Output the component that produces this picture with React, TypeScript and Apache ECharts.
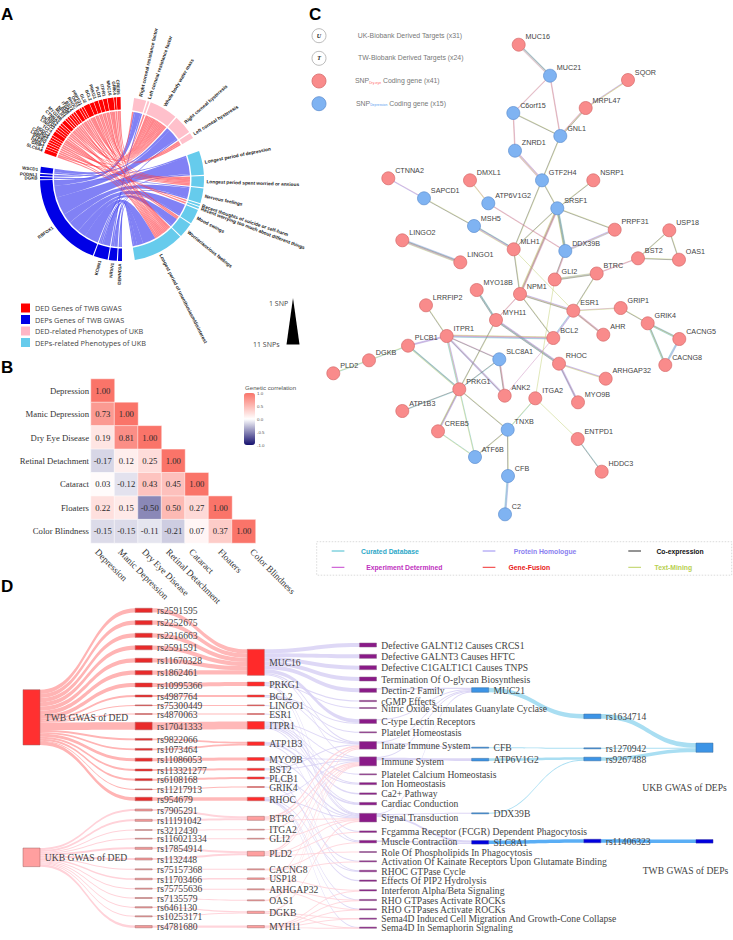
import React, { useEffect, useRef } from "react";
import * as echarts from "echarts";

/* ---------- Panel A: chord ---------- */
const dedGenes = ["SLC6A4","GRIP1","DMXL1","PTPRD","LRRFIP2","CACNG5","HDDC3","TCF4","LINGO2","ENTPD1","ANK2","CTNNA2","MYO18B","MLH1","NPM1","AHR","ITGA2","BST2","RHOC","OAS1","PRPF31","GLI2","BCL2","PRKG1","PLD2","ITPR1","MUC16","GRIK4","CREB5"];
const depGenes = ["DENND1A","NRXN1","KCNN1","RBFOX1","DGKB ","PODNL1","WSCD1"];
const dedPhenotypes = ["Right corneal resistance factor","Left corneal resistance factor","Whole body water mass","Right corneal hysteresis","Left corneal hysteresis"];
const depPhenotypes = ["Longest period of depression","Longest period spent worried or anxious","Nervous feelings","Recent thoughts of suicide or self-harm","Recent worrying too much about different things","Mood swings","Worrier/anxious feelings","Longest period of unenthusiasm/disinterest"];
const [RR, LR, WB, RH, LH] = dedPhenotypes;
const [LD, LW, NF, RT, RW, MS, MM, LM] = depPhenotypes;
const dedLinks: [string, string, number][] = [
  ["SLC6A4",LM,1],["SLC6A4",WB,1],["GRIP1",LM,1],["DMXL1",LW,1],["PTPRD",MM,1],["LRRFIP2",LM,1],["CACNG5",WB,1],["HDDC3",LW,1],["TCF4",RT,1],["TCF4",RW,1],
  ["LINGO2",LM,1],["ENTPD1",WB,1],["ANK2",LW,1],["CTNNA2",LM,1],["MYO18B",WB,1],["MYO18B",LM,1],["MLH1",WB,1],["NPM1",LW,1],["AHR",WB,1],["ITGA2",LM,1],["BST2",WB,1],
  ["RHOC",LM,1],["RHOC",LW,1],["OAS1",WB,1],["PRPF31",MM,1],["GLI2",WB,2],["GLI2",LH,1],["BCL2",LM,1],["BCL2",WB,1],["PRKG1",WB,1],["PRKG1",LM,1],["PLD2",LH,1],["PLD2",LW,1],
  ["ITPR1",WB,1],["ITPR1",RR,1],["MUC16",WB,2],["MUC16",LM,1],["GRIK4",LR,1],["CREB5",LH,1],["CREB5",LM,1],
];
const depLinks: [string, string, number][] = [
  ["WSCD1",RH,2],["WSCD1",LD,1],["PODNL1",RR,1],["DGKB ",NF,1],
  ["RBFOX1",RR,3.5],["RBFOX1",RH,7],["RBFOX1",LD,11],["RBFOX1",NF,6],["RBFOX1",MS,7],["RBFOX1",MM,5],["RBFOX1",LM,8.5],
  ["KCNN1",LD,1],["KCNN1",LM,4],["KCNN1",RH,1],["KCNN1",MS,1],["NRXN1",LM,2],["NRXN1",NF,1],["NRXN1",RR,1],["DENND1A",LM,1],["DENND1A",MM,1],
];
const chordLegend = ["DED Genes of TWB GWAS","DEPs Genes of TWB GWAS","DED-related Phenotypes of UKB","DEPs-related Phenotypes of UKB"];

/* ---------- Panel B: heatmap ---------- */
const traits = ["Depression","Manic Depression","Dry Eye Disease","Retinal Detachment","Cataract","Floaters","Color Blindness"];
const corrDepression = [1.0,0.73,0.19,-0.17,0.03,0.22,-0.15];
const corrManic = [1.0,0.81,0.12,-0.12,0.15,-0.15];
const corrDryEye = [1.0,0.25,0.43,-0.5,-0.11];
const corrRetinal = [1.0,0.45,0.5,-0.21];
const corrCataract = [1.0,0.27,0.07];
const corrFloaters = [1.0,0.37];
const corrColor = [1.0];
const corrColumns = [corrDepression,corrManic,corrDryEye,corrRetinal,corrCataract,corrFloaters,corrColor];
const corrTicks = ["1.0","0.5","0.0","-0.5","-1.0"];
const traitLabelStarts = [95,118,142,166,189,218,250];

/* ---------- Panel C: network ---------- */
const netNodes: [string, number, number][] = [
  ["MUC16",218.7,44.7],["MUC21",250,75.7],["SQOR",328,80],["MRPL47",285.7,108],["C6orf15",213.3,113],["GNL1",260.3,136],["ZNRD1",215,150.7],
  ["CTNNA2",88.3,178.3],["DMXL1",170,180.3],["GTF2H4",242,180.3],["NSRP1",293.3,180.3],["SAPCD1",124,198.3],["ATP6V1G2",188.3,203.3],["SRSF1",257.3,208.3],
  ["MSH5",174,226],["PRPF31",314.7,229.7],["USP18",369.3,230.3],["LINGO2",102.3,240.3],["MLH1",213.7,249.3],["DDX39B",265.3,251],["BST2",338,258.3],
  ["OAS1",379,259.7],["LINGO1",160.3,262.3],["BTRC",296.7,273.5],["GLI2",254.7,279.5],["MYO18B",176.7,290],["NPM1",220,294],["LRRFIP2",126,305.3],
  ["ESR1",273.3,310.7],["GRIP1",320.7,308],["MYH11",196,320],["GRIK4",347.7,323.3],["AHR",303.3,334.7],["ITPR1",146.7,336],["BCL2",253.3,338],
  ["CACNG5",379.3,339],["PLCB1",108,345.7],["SLC8A1",199.3,359.3],["DGKB",69,360.3],["RHOC",259,363.7],["CACNG8",365.3,365],["PLD2",33.3,373.3],
  ["ARHGAP32",305.7,378.7],["PRKG1",159.3,389.3],["ANK2",204.7,395.7],["ITGA2",235.3,398.3],["MYO9B",278,402.3],["ATP1B3",102.3,411],["TNXB",207.7,429.7],
  ["CREB5",138,431.3],["ENTPD1",277.7,439],["ATF6B",175,457],["HDDC3",301.7,471.7],["CFB",208,476],["C2",205,514.3],
];
const depressionNodes = ["MUC21","C6orf15","GNL1","ZNRD1","GTF2H4","SAPCD1","ATP6V1G2","SRSF1","MSH5","DDX39B","SLC8A1","TNXB","ATF6B","CFB","C2"];
const ukNodes = ["MUC21","ZNRD1","CFB","C2","TNXB","ATF6B","BTRC","ITGA2","GLI2","PLD2","CACNG8","CACNG5","USP18","ARHGAP32","OAS1","DGKB","MYH11","DMXL1","CTNNA2","LINGO2","MYO18B","NPM1","AHR","GRIP1","ANK2","HDDC3","ENTPD1","CREB5","LRRFIP2","SQOR","MRPL47"];
// evidence letters: d curated database, e experiment, h homologue, f fusion, k co-expression, t text-mining
const netEdges: [string, string, string][] = [
  ["MUC16","MUC21","dkhte"],["MUC21","C6orf15","ef"],["MUC21","GNL1","ef"],["C6orf15","GNL1","tk"],["C6orf15","ZNRD1","ef"],["ZNRD1","GTF2H4","ehfte"],
  ["GNL1","GTF2H4","tk"],["GNL1","MRPL47","eftk"],["MRPL47","SQOR","hft"],["GTF2H4","SRSF1","tk"],["GTF2H4","MLH1","tk"],["SRSF1","NSRP1","tk"],["SRSF1","MLH1","tk"],
  ["SRSF1","PRPF31","tk"],["SRSF1","DDX39B","dkdkt"],["SRSF1","NPM1","efkft"],["PRPF31","DDX39B","hteh"],["DDX39B","GLI2","efk"],["ATP6V1G2","DDX39B","ef"],
  ["DMXL1","ATP6V1G2","ft"],["CTNNA2","SAPCD1","eh"],["SAPCD1","MSH5","tk"],["MSH5","MLH1","dkhet"],["LINGO2","LINGO1","hdkfht"],["USP18","BST2","tk"],["USP18","OAS1","tk"],
  ["BST2","OAS1","tk"],["BST2","BTRC","ef"],["GLI2","BTRC","thtk"],["BTRC","ESR1","tk"],["MLH1","NPM1","tk"],["MLH1","ESR1","t"],["NPM1","ESR1","hetk"],["NPM1","MYH11","ef"],
  ["NPM1","BCL2","tk"],["ESR1","BCL2","hehd"],["ESR1","AHR","efkf"],["ESR1","GRIP1","et"],["GRIP1","GRIK4","tk"],["GRIK4","CACNG5","dktd"],["GRIK4","CACNG8","dktd"],
  ["CACNG5","CACNG8","hdhd"],["MYO18B","MYH11","dkdk"],["MYH11","RHOC","hekdk"],["MYH11","PRKG1","tk"],["LRRFIP2","ITPR1","tk"],["ITPR1","PLCB1","heh"],["ITPR1","BCL2","tfehd"],
  ["ITPR1","SLC8A1","ek"],["ITPR1","ANK2","hekh"],["ITPR1","PRKG1","hetd"],["PLCB1","DGKB","dt"],["DGKB","PLD2","dt"],["PLCB1","PRKG1","dkdt"],["SLC8A1","ANK2","efk"],
  ["SLC8A1","PRKG1","dk"],["ANK2","BCL2","e"],["RHOC","ARHGAP32","het"],["RHOC","MYO9B","hekh"],["GLI2","ITGA2","t"],["ITGA2","TNXB","dt"],["ITGA2","ENTPD1","t"],
  ["ENTPD1","HDDC3","dk"],["PRKG1","ATP1B3","dk"],["PRKG1","CREB5","hekt"],["PRKG1","TNXB","tk"],["PRKG1","ATF6B","dt"],["CREB5","ATF6B","dt"],["TNXB","ATF6B","tk"],
  ["TNXB","CFB","tk"],["CFB","C2","hdhd"],
];
const netLegendTop = ["UK-Biobank Derived Targets (x31)","TW-Biobank Derived Targets (x24)"];
const evidenceNames = ["Curated Database","Experiment Determined","Protein Homologue","Gene-Fusion","Co-expression","Text-Mining"];

/* ---------- Panel D: sankey ---------- */
const snpNames = ["rs2591595","rs2252675","rs2216663","rs2591591","rs11670328","rs1862461","rs10995366","rs4987764","rs75300449","rs4870063","rs17041333","rs9822066","rs1073464","rs11086053","rs113321277","rs6108168","rs11217913","rs954679",
  "rs7905291","rs11191042","rs3212430","rs116021334","rs17854914","rs1132448","rs75157368","rs11703466","rs75755636","rs7135579","rs6461130","rs10253171","rs4781680"];
const snpWeights = [4.2,4.2,4.2,4.2,4.2,4.2,4,2,0.8,0.8,7.6,1.8,1.8,3,2,2,0.8,3.5, 2,2,0.8,0.8,2,2,1,1.5,1,1,1.2,1,2.3];
const snpGenes = ["MUC16","MUC16","MUC16","MUC16","MUC16","MUC16","PRKG1","BCL2","LINGO1","ESR1","ITPR1","ATP1B3","ATP1B3","MYO9B","BST2","PLCB1","GRIK4","RHOC",
  "BTRC","BTRC","ITGA2","GLI2","PLD2","PLD2","CACNG8","USP18","ARHGAP32","OAS1","DGKB","DGKB","MYH11"];
const twbSnpCount = 18;
const twbGenes = ["MUC16","PRKG1","BCL2","LINGO1","ESR1","ITPR1","ATP1B3","MYO9B","BST2","PLCB1","GRIK4","RHOC"];
const ukbGenes = ["BTRC","ITGA2","GLI2","PLD2","CACNG8","USP18","ARHGAP32","OAS1","DGKB","MYH11"];
const pathways = ["Defective GALNT12 Causes CRCS1","Defective GALNT3 Causes HFTC","Defective C1GALT1C1 Causes TNPS","Termination Of O-glycan Biosynthesis","Dectin-2 Family","cGMP Effects","Nitric Oxide Stimulates Guanylate Cyclase","C-type Lectin Receptors","Platelet Homeostasis","Innate Immune System","Immune System","Platelet Calcium Homeostasis","Ion Homeostasis","Ca2+ Pathway","Cardiac Conduction","Signal Transduction","Fcgamma Receptor (FCGR) Dependent Phagocytosis","Muscle Contraction","Role Of Phospholipids In Phagocytosis","Activation Of Kainate Receptors Upon Glutamate Binding","RHOC GTPase Cycle","Effects Of PIP2 Hydrolysis","Interferon Alpha/Beta Signaling","RHO GTPases Activate ROCKs","RHO GTPases Activate ROCKs ","Sema4D Induced Cell Migration And Growth-Cone Collapse","Sema4D In Semaphorin Signaling"];
const [pG12,pG3,pC1,pTerm,pDectin,pCgmp,pNo,pCtype,pPH,pInnate,pImmune,pPCa,pIon,pCa,pCard,pSig,pFcg,pMus,pRole,pKain,pRhoc,pPip,pIfn,pRho1,pRho2,pSemaA,pSemaB] = pathways;
const genePathwayLinks: [string, string, number][] = [
  ["MUC16",pG12,4],["MUC16",pG3,4],["MUC16",pC1,4],["MUC16",pTerm,4],["MUC16",pDectin,4],["MUC16",pCtype,3.6],["MUC16",pInnate,1.2],["MUC16",pImmune,1.2],
  ["PRKG1",pCgmp,1.2],["PRKG1",pNo,1],["PRKG1",pSig,0.8],["PRKG1",pMus,1],
  ["BCL2",pCtype,0.6],["BCL2",pPH,1],["BCL2",pInnate,0.4],["LINGO1",pSig,0.8],["ESR1",pSig,0.8],
  ["ITPR1",pPCa,1],["ITPR1",pIon,1],["ITPR1",pCa,1.5],["ITPR1",pCard,0.8],["ITPR1",pInnate,1],["ITPR1",pImmune,1],["ITPR1",pFcg,0.8],
  ["ATP1B3",pIon,1],["ATP1B3",pCard,1.7],["ATP1B3",pMus,0.9],
  ["MYO9B",pRhoc,0.8],["MYO9B",pSig,1.2],["MYO9B",pImmune,1],["BST2",pInnate,1],["BST2",pImmune,1],
  ["PLCB1",pPip,1.3],["PLCB1",pSig,0.7],["GRIK4",pKain,0.8],
  ["RHOC",pRhoc,0.7],["RHOC",pRho1,0.4],["RHOC",pRho2,0.4],["RHOC",pImmune,1],["RHOC",pSig,0.5],["RHOC",pSemaB,0.4],
  ["BTRC",pInnate,1.8],["BTRC",pImmune,1.4],["BTRC",pSig,0.8],["ITGA2",pImmune,0.8],["GLI2",pSig,0.8],
  ["PLD2",pFcg,0.7],["PLD2",pRole,1],["PLD2",pInnate,1.6],["PLD2",pImmune,0.5],["PLD2",pSig,1],
  ["CACNG8",pMus,0.6],["CACNG8",pKain,0.3],["USP18",pIfn,1],["USP18",pImmune,0.5],["ARHGAP32",pRho1,0.4],["ARHGAP32",pRho2,0.3],["OAS1",pInnate,0.5],["OAS1",pImmune,0.5],
  ["DGKB",pSig,1.2],["DGKB",pSemaA,0.5],["DGKB",pSemaB,0.4],["MYH11",pRho1,0.4],["MYH11",pRho2,0.4],["MYH11",pSemaA,0.6],["MYH11",pSemaB,0.4],["MYH11",pIfn,0.3],
];
const depSideGenes = ["MUC21","CFB","ATP6V1G2","DDX39B","SLC8A1"];
const pathwayDepLinks: [string, string, number][] = [
  [pDectin,"MUC21",1.2],[pCtype,"MUC21",1],[pInnate,"MUC21",0.9],[pImmune,"MUC21",0.8],[pSig,"MUC21",0.7],
  [pInnate,"CFB",1],[pImmune,"ATP6V1G2",2.6],[pSig,"DDX39B",1],[pSig,"SLC8A1",1.9],[pMus,"SLC8A1",1.6],
];
const depSnps = ["rs1634714","rs1270942","rs9267488","rs11406323"];
const depSnpLinks: [string, string, number][] = [["MUC21","rs1634714",4.6],["CFB","rs1270942",1],["ATP6V1G2","rs9267488",2.6],["DDX39B","rs9267488",1],["SLC8A1","rs11406323",3.5]];
const depSources = ["UKB GWAS of DEPs","TWB GWAS of DEPs"];
const depSourceLinks: [string, string, number][] = [["rs1634714",depSources[0],4.6],["rs1270942",depSources[0],1],["rs9267488",depSources[0],3.6],["rs11406323",depSources[1],3.5]];

/* ---------- layout tables ---------- */
const snpCenters = [61,98,136,173,211,248,285,318,346,372,408,448,478,509,540,569,598,627,660,691,720,746,775,807,838,867,896,924,952,979,1010];
const geneCenters: Record<string, number> = {MUC16:217,PRKG1:282,BCL2:318,LINGO1:346,ESR1:372,ITPR1:406,ATP1B3:461,MYO9B:507,BST2:538,PLCB1:564,GRIK4:591,RHOC:627,BTRC:685,ITGA2:719,GLI2:746,PLD2:791,CACNG8:838,USP18:866,ARHGAP32:898,OAS1:931,DGKB:967,MYH11:1010};
const pathwayCenters = [60,94,128,162,196,228,249,289,322,361,409,448,476,506,536,578,620,650,681,709,738,767,796,825,853,881,908];
const depGeneCenters = [195,368,404,565,652];
const depSnpCenters = [274,370,402,648];
const depSourceCenters = [368,649];

const SERIF = "'Liberation Serif','Times New Roman',serif";
const SANS = "'Liberation Sans',Arial,sans-serif";

function buildChord() {
  const cx = 122, cy = 179, R1 = 82, R0 = 69.5, Rr = 68;
  const groups = [
    { names: dedGenes, color: "#ff0000", start: 288.4, end: 359, gap: 0.4 },
    { names: dedPhenotypes, color: "#ffc0cb", start: 8.5, end: 60, gap: 1 },
    { names: depPhenotypes, color: "#66cbec", start: 70, end: 171, gap: 0.8 },
    { names: depGenes, color: "#0000e6", start: 180, end: 278.6, gap: 0.8 },
  ];
  const links = [
    ...depLinks.map((l) => ({ a: l[0], b: l[1], v: l[2], fill: "rgba(70,70,240,0.68)" })),
    ...dedLinks.map((l) => ({ a: l[0], b: l[1], v: l[2], fill: "rgba(255,60,70,0.62)" })),
  ];
  const p = (r: number, d: number) => {
    const t = (d * Math.PI) / 180;
    return [cx + r * Math.sin(t), cy - r * Math.cos(t)];
  };
  const f = (q: number[]) => q[0].toFixed(2) + " " + q[1].toFixed(2);
  const nodes: Record<string, any> = {};
  groups.forEach((g) => {
    const sum = g.names.reduce((s, n) => s + links.filter((l) => l.a === n || l.b === n).reduce((x, l) => x + l.v, 0), 0);
    const unit = (g.end - g.start - g.gap * (g.names.length - 1)) / sum;
    let at = g.start;
    g.names.forEach((n) => {
      const v = links.filter((l) => l.a === n || l.b === n).reduce((x, l) => x + l.v, 0);
      nodes[n] = { name: n, a0: at, a1: at + v * unit, unit, color: g.color, mid: at + (v * unit) / 2 };
      at += v * unit + g.gap;
    });
  });
  const children: any[] = [];
  Object.values(nodes).forEach((nd: any) => {
    const own = links.filter((l) => l.a === nd.name || l.b === nd.name);
    const key = (l: any) => {
      const other = l.a === nd.name ? nodes[l.b] : nodes[l.a];
      return (other.mid - nd.mid + 360) % 360;
    };
    own.sort((x, y) => key(y) - key(x));
    let at = nd.a0;
    own.forEach((l: any) => {
      const e = at + l.v * nd.unit;
      if (l.a === nd.name) l.aSlot = [at, e];
      else l.bSlot = [at, e];
      at = e;
    });
  });
  links.forEach((l: any) => {
    const [a0, a1] = l.aSlot;
    const [b0, b1] = l.bSlot;
    const arc = (to: number) => `A ${Rr} ${Rr} 0 0 1 ${f(p(Rr, to))}`;
    const curve = (from: number, to: number) => `C ${f(p(Rr * 0.14, from))} ${f(p(Rr * 0.14, to))} ${f(p(Rr, to))}`;
    const d = `M ${f(p(Rr, a0))} ${arc(a1)} ${curve(a1, b0)} ${arc(b1)} ${curve(b1, a0)} Z`;
    children.push({ type: "path", shape: { pathData: d }, style: { fill: l.fill } });
  });
  Object.values(nodes).forEach((nd: any) => {
    const large = nd.a1 - nd.a0 > 180 ? 1 : 0;
    const d = `M ${f(p(R1, nd.a0))} A ${R1} ${R1} 0 ${large} 1 ${f(p(R1, nd.a1))} L ${f(p(R0, nd.a1))} A ${R0} ${R0} 0 ${large} 0 ${f(p(R0, nd.a0))} Z`;
    children.push({ type: "path", shape: { pathData: d }, style: { fill: nd.color } });
    const [x, y] = p(R1 + 2.5, nd.mid);
    const right = nd.mid < 180;
    const rot = ((90 - nd.mid) * Math.PI) / 180 + (right ? 0 : Math.PI);
    const isGene = dedGenes.includes(nd.name) || depGenes.includes(nd.name);
    children.push({
      type: "text", x, y, rotation: rot,
      style: { text: nd.name.trim(), align: right ? "left" : "right", verticalAlign: "middle", fontSize: isGene ? 4.4 : 4.8, fontWeight: "bold", fontFamily: SANS, fill: "#222" },
    });
  });
  return children;
}

function buildSankey() {
  const allGenes = [...twbGenes, ...ukbGenes];
  const links: any[] = [];
  const lavender = "#d8d1f4", pinkA = "#ffb4b4", pinkB = "#ffd2d9";
  snpNames.forEach((s, i) => {
    const isTwb = i < twbSnpCount;
    links.push({ source: isTwb ? "TWB GWAS of DED" : "UKB GWAS of DED", target: s, value: snpWeights[i], lineStyle: { color: isTwb ? pinkA : pinkB, opacity: 1 } });
    links.push({ source: s, target: snpGenes[i], value: snpWeights[i], lineStyle: { color: isTwb ? pinkA : pinkB, opacity: 0.95 } });
  });
  genePathwayLinks.forEach((l) => links.push({ source: l[0], target: l[1], value: l[2], lineStyle: { color: twbGenes.includes(l[0]) ? lavender : pinkB, opacity: 0.85 } }));
  pathwayDepLinks.forEach((l) => links.push({ source: l[0], target: l[1], value: l[2], lineStyle: { color: lavender, opacity: 0.9 } }));
  depSnpLinks.forEach((l) => links.push({ source: l[0], target: l[1], value: l[2], lineStyle: { color: l[0] === "SLC8A1" ? "#5aaef5" : "#a9def2", opacity: 1 } }));
  depSourceLinks.forEach((l) => links.push({ source: l[0], target: l[1], value: l[2], lineStyle: { color: l[1] === depSources[1] ? "#5aaef5" : "#a9def2", opacity: 1 } }));

  const valueOf = (n: string) => {
    const i = links.filter((l) => l.target === n).reduce((s, l) => s + l.value, 0);
    const o = links.filter((l) => l.source === n).reduce((s, l) => s + l.value, 0);
    return Math.max(i, o);
  };
  const columns: { names: string[]; centers: number[] }[] = [
    { names: ["TWB GWAS of DED", "UKB GWAS of DED"], centers: [590 + 382 / 3, 590 + 802 / 3] },
    { names: snpNames, centers: snpCenters.map((z) => 590 + z / 3) },
    { names: allGenes, centers: allGenes.map((g) => 590 + geneCenters[g] / 3) },
    { names: pathways, centers: pathwayCenters.map((z) => 625 + z / 3) },
    { names: depSideGenes, centers: depGeneCenters.map((z) => 625 + z / 3) },
    { names: depSnps, centers: depSnpCenters.map((z) => 625 + z / 3) },
    { names: depSources, centers: depSourceCenters.map((z) => 625 + z / 3) },
  ];
  const H = Math.max(...columns.map((c) => c.names.reduce((s, n) => s + valueOf(n), 0)));
  const top = 600, left = 23, width = 690, nodeW = 17;
  const step = (width - nodeW) / 6;
  const nodeFill = (n: string, col: number) => {
    if (col === 3) return { color: "#8a1a88", borderColor: "#8a5f88" };
    if (n === "TWB GWAS of DED") return { color: "#ff3030", borderColor: "#a06060" };
    if (n === "UKB GWAS of DED") return { color: "#ff9f9f", borderColor: "#a06060" };
    if (col === 1) return snpNames.indexOf(n) < twbSnpCount ? { color: "#e82a2a", borderColor: "#b06060" } : { color: "#f49a9a", borderColor: "#a06868" };
    if (col === 2) return twbGenes.includes(n) ? { color: "#ff2a2a", borderColor: "#b06060" } : { color: "#ff9f9f", borderColor: "#a06868" };
    if (n === "SLC8A1" || n === "rs11406323" || n === depSources[1]) return { color: "#0000e0", borderColor: "#3030a0" };
    return { color: "#3c94e6", borderColor: "#35689a" };
  };
  const data: any[] = [];
  columns.forEach((c, ci) => {
    c.names.forEach((n, i) => {
      const v = valueOf(n);
      const item: any = {
        name: n,
        localX: (ci * step) / width,
        localY: (c.centers[i] - v / 2 - top) / H,
        itemStyle: { ...nodeFill(n, ci), borderWidth: 0.5, opacity: 1 },
      };
      if (n === depSources[0]) item.label = { position: "bottom", offset: [-20, 25] };
      if (n === depSources[1]) item.label = { position: "bottom", offset: [-19, 18] };
      data.push(item);
    });
  });
  return { data, links, H, top, left, width, nodeW };
}

export default function App() {
  const ref = useRef<HTMLDivElement>(null);
  useEffect(() => {
    if (!ref.current) return;
    document.body.style.margin = "0";
    const chart = echarts.init(ref.current, undefined, { renderer: "svg" });

    const heatData: any[] = [];
    corrColumns.forEach((col, x) => col.forEach((v, k) => heatData.push([x, x + k, v])));

    const nodeIndex: Record<string, [number, number]> = {};
    netNodes.forEach((n) => (nodeIndex[n[0]] = [n[1], n[2]]));
    const evidenceColor: Record<string, string> = { d: "#58b4bc", e: "#c47ab4", h: "#8f88e0", f: "#cc7a70", k: "#5a5a5a", t: "#b8c85c" };

    const sk = buildSankey();
    const chordChildren = buildChord();

    const txt = (text: string, x: number, y: number, o: any = {}) => ({
      type: "text", x, y, silent: true,
      style: { text, fontSize: 7, fontFamily: SANS, fill: "#555", align: "left", verticalAlign: "middle", ...o },
    });
    const panel = (t: string, x: number, y: number) => txt(t, x, y, { fontSize: 17, fontWeight: "bold", fill: "#000", verticalAlign: "top" });

    const graphics: any[] = [
      panel("A", 1, 6), panel("B", 1, 359), panel("C", 309, 6), panel("D", 1, 578),
      ...traits.map((t, i) => ({ ...txt(t, traitLabelStarts[i] + 1.5, 550.5, { fontFamily: SERIF, fontSize: 9.2, fill: "#333" }), rotation: -Math.PI / 4 })),
      ...["#ff0000", "#0000e6", "#ffb6c6", "#66cbec"].map((c, i) => ({ type: "rect", shape: { x: 21, y: 303.5 + i * 11.5, width: 9, height: 9 }, style: { fill: c } })),
      ...chordLegend.map((t, i) => txt(t, 35, 308 + i * 11.5, { fontSize: 7.3, fontFamily: "'Open Sans',sans-serif", fill: "#444" })),
      { type: "polygon", shape: { points: [[293, 298], [299.5, 344.5], [286.5, 344.5]] }, style: { fill: "#000" } },
      txt("1 SNP", 269, 303, { fontSize: 7, fontFamily: "'Open Sans',sans-serif", fill: "#444" }),
      txt("11 SNPs", 253, 344.5, { fontSize: 7, fontFamily: "'Open Sans',sans-serif", fill: "#444" }),
      txt("Genetic correlation", 245, 387, { fontSize: 6.1, fill: "#555" }),
      ...corrTicks.map((t, i) => txt(t, 257, 393.5 + i * 13, { fontSize: 4.4, fill: "#555" })),
      ...[0, 1].map((i) => ({ type: "circle", shape: { cx: 319, cy: 35.7 + i * 22.6, r: 7 }, style: { fill: "#fff", stroke: "#aaa", lineWidth: 0.8 } })),
      txt("U", 319, 35.7, { fontFamily: SERIF, fontStyle: "italic", fontWeight: "bold", fontSize: 6, fill: "#222", align: "center" }),
      txt("T", 319, 58.3, { fontFamily: SERIF, fontStyle: "italic", fontWeight: "bold", fontSize: 6, fill: "#222", align: "center" }),
      { type: "circle", shape: { cx: 319, cy: 81, r: 7 }, style: { fill: "#f98b8b", stroke: "#d56a6a", lineWidth: 0.8 } },
      { type: "circle", shape: { cx: 319, cy: 103.7, r: 7 }, style: { fill: "#7fb3f2", stroke: "#5f8fd0", lineWidth: 0.8 } },
      txt(netLegendTop[0], 357.7, 35, { fontSize: 6.9, fill: "#777" }),
      txt(netLegendTop[1], 358, 57.7, { fontSize: 6.9, fill: "#777" }),
      {
        type: "text", x: 355, y: 80.5, silent: true,
        style: { text: "{a|SNP}{b|Dry-eye}{a| Coding gene (x41)}", verticalAlign: "middle", rich: {
          a: { fontSize: 6.9, fontFamily: SANS, fill: "#777" }, b: { fontSize: 3.4, fontFamily: SANS, fill: "#f66", verticalAlign: "bottom", padding: [3, 0, 0, 0] } } },
      },
      {
        type: "text", x: 356, y: 103, silent: true,
        style: { text: "{a|SNP}{b|Depression}{a| Coding gene (x15)}", verticalAlign: "middle", rich: {
          a: { fontSize: 6.9, fontFamily: SANS, fill: "#777" }, b: { fontSize: 3.4, fontFamily: SANS, fill: "#5a9cf0", verticalAlign: "bottom", padding: [3, 0, 0, 0] } } },
      },
      { type: "rect", shape: { x: 316.7, y: 541.7, width: 415, height: 33.5 }, style: { fill: "none", stroke: "#ccc", lineWidth: 0.7, lineDash: [1.5, 1.5] } },
      ...[
        [331.7, 551, "#2fb4c8", 390, "#2ea8c8", 0],
        [331.7, 567.3, "#c030c8", 404.3, "#c030c0", 1],
        [482.7, 551, "#8c80f0", 545, "#8a80f0", 2],
        [482.7, 567.3, "#f01818", 529.3, "#e81818", 3],
        [628.3, 551, "#111", 680, "#111", 4],
        [628.3, 567.3, "#b4cc4c", 673.3, "#b8d050", 5],
      ].flatMap((r: any[]) => [
        { type: "line", shape: { x1: r[0], y1: r[1], x2: r[0] + 12.7, y2: r[1] }, style: { stroke: r[2], lineWidth: 0.9 } },
        txt(evidenceNames[r[5]], r[3], r[1], { fontSize: 6.8, fontWeight: "bold", fill: r[4], align: "center" }),
      ]),
    ];

    chart.setOption({
      animation: false,
      backgroundColor: "#fff",
      textStyle: { fontFamily: SANS },
      grid: [
        { left: 91, top: 379, width: 164.5, height: 164, containLabel: false },
        { left: 300, top: 0, width: 433, height: 580 },
      ],
      xAxis: [
        { type: "category", gridIndex: 0, data: traits, axisLine: { show: false }, axisTick: { show: false }, splitLine: { show: false }, axisLabel: { show: false } },
        { type: "value", gridIndex: 1, min: 0, max: 433, show: false },
      ],
      yAxis: [
        { type: "category", gridIndex: 0, inverse: true, data: traits, axisLine: { show: false }, axisTick: { show: false }, splitLine: { show: false },
          axisLabel: { interval: 0, fontFamily: SERIF, fontSize: 8.7, color: "#333", margin: 2 } },
        { type: "value", gridIndex: 1, min: 0, max: 580, inverse: true, show: false },
      ],
      visualMap: {
        type: "continuous", seriesIndex: 0, min: -1, max: 1, left: 244, top: 393, itemWidth: 11, itemHeight: 52, padding: 0, calculable: false, hoverLink: false,
        inRange: { color: ["#15106e", "#ffffff", "#fa7469"] }, text: ["", ""], textGap: 0,
      },
      graphic: { elements: graphics },
      series: [
        {
          type: "heatmap", xAxisIndex: 0, yAxisIndex: 0, data: heatData, silent: true,
          itemStyle: { borderColor: "#fff", borderWidth: 0.5 },
          label: { show: true, fontFamily: SERIF, fontSize: 8.7, color: "#2a2a2a", formatter: (p: any) => p.value[2].toFixed(2) },
          emphasis: { disabled: true },
        },
        {
          type: "custom", coordinateSystem: "cartesian2d", xAxisIndex: 1, yAxisIndex: 1, silent: true,
          encode: { x: [0, 2], y: [1, 3] },
          data: netEdges.map((e) => [nodeIndex[e[0]][0], nodeIndex[e[0]][1], nodeIndex[e[1]][0], nodeIndex[e[1]][1]]),
          renderItem: (params: any, api: any) => {
            const a = api.coord([api.value(0), api.value(1)]);
            const b = api.coord([api.value(2), api.value(3)]);
            const code = netEdges[params.dataIndex][2];
            const dx = b[0] - a[0], dy = b[1] - a[1], L = Math.hypot(dx, dy) || 1;
            const nx = -dy / L, ny = dx / L, w = 0.5;
            return {
              type: "group",
              children: code.split("").map((ch, i) => {
                const o = (i - (code.length - 1) / 2) * w;
                return { type: "line", shape: { x1: a[0] + nx * o, y1: a[1] + ny * o, x2: b[0] + nx * o, y2: b[1] + ny * o }, style: { stroke: evidenceColor[ch], lineWidth: 0.6, opacity: 0.7 } };
              }),
            };
          },
        },
        {
          type: "scatter", xAxisIndex: 1, yAxisIndex: 1, symbolSize: 13, silent: true,
          data: netNodes.map((n) => ({
            name: n[0], value: [n[1], n[2]],
            itemStyle: depressionNodes.includes(n[0]) ? { color: "#7fb3f2", borderColor: "#5f8fd0", borderWidth: 0.7, opacity: 1 } : { color: "#f98b8b", borderColor: "#d56a6a", borderWidth: 0.7, opacity: 1 },
          })),
          label: { show: true, position: "right", distance: 0, offset: [0, -8], formatter: "{b}", fontFamily: SANS, fontSize: 7.2, color: "#444" },
        },
        {
          type: "scatter", xAxisIndex: 1, yAxisIndex: 1, symbolSize: 1, silent: true, itemStyle: { opacity: 0 },
          data: netNodes.map((n) => ({ name: ukNodes.includes(n[0]) ? "U" : "T", value: [n[1], n[2]] })),
          label: { show: true, position: "inside", formatter: "{b}", fontFamily: SERIF, fontStyle: "italic", fontSize: 4, color: "#fff" },
        },
        {
          type: "sankey", silent: true, left: sk.left, top: sk.top, width: sk.width, height: sk.H, nodeWidth: sk.nodeW, nodeGap: 0, layoutIterations: 0,
          nodeAlign: "left", draggable: false, roam: false, emphasis: { disabled: true },
          data: sk.data, links: sk.links,
          lineStyle: { curveness: 0.5 },
          label: { show: true, position: "right", distance: 4.6, fontFamily: SERIF, fontSize: 9.6, color: "#444", formatter: (p: any) => p.name.trim() },
        },
        {
          type: "custom", coordinateSystem: "none", silent: true, data: [[0]],
          renderItem: () => ({ type: "group", children: chordChildren }),
        },
      ],
    });
    return () => chart.dispose();
  }, []);
  return <div ref={ref} style={{ position: "absolute", left: 0, top: 0, width: 733, height: 940 }} />;
}
